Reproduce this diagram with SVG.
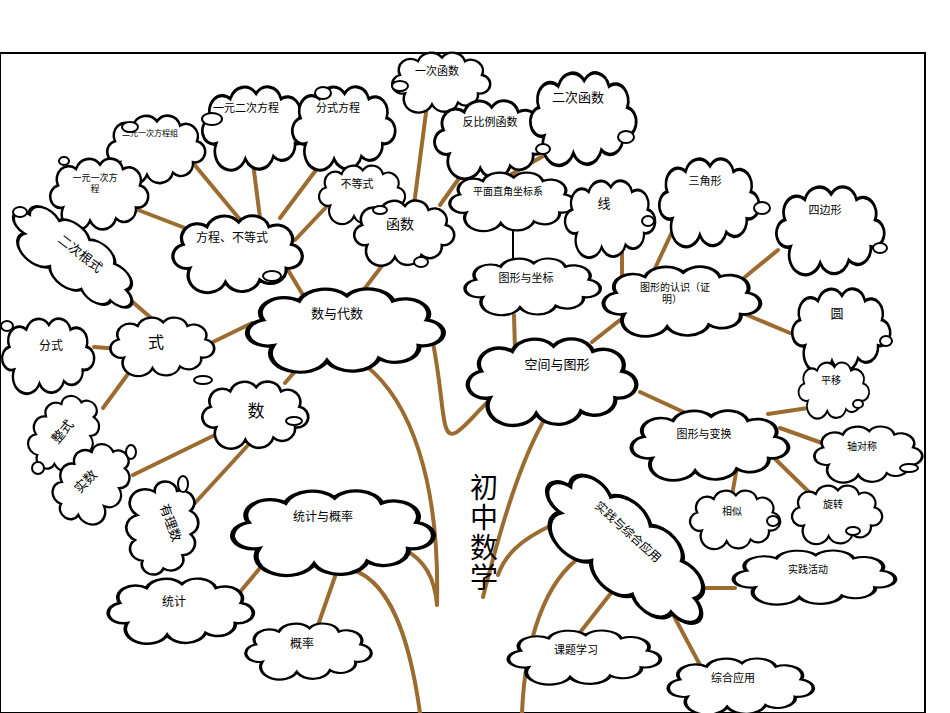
<svg xmlns="http://www.w3.org/2000/svg" width="950" height="713" viewBox="0 0 950 713">
<style>
.c{fill:#fff;stroke:#000;stroke-width:2.5;vector-effect:non-scaling-stroke}
.t{font-family:"Liberation Sans","Noto Sans CJK SC",sans-serif;font-size:11px;text-anchor:middle;fill:#000}
.l{stroke:#9c6b30;stroke-width:4;fill:none;stroke-linecap:round}
.sp{fill:#fff;stroke:#000;stroke-width:2}
</style>
<defs>
<path id="cl" d="M15,45 A10,10 0 0 1 10,25 A12,12 0 0 1 28,10 A14,14 0 0 1 52,6 A13,13 0 0 1 75,10 A12,12 0 0 1 92,25 A10,10 0 0 1 88,45 A12,12 0 0 1 68,55 A14,14 0 0 1 42,57 A12,12 0 0 1 15,45 Z"/>
</defs>
<rect x="0" y="53" width="925" height="660" fill="#fff" stroke="#000" stroke-width="2"/>
<g id="connectors">
<path class="l" d="M427,105L414,205M465,170L440,205M545,155L510,175M514,315L515,350M622,243L622,298M672,232L651,277M778,250L745,277M740,312L790,333M620,320L592,342M640,392L690,415M808,408L768,414M780,428L822,443M738,462L732,495M768,452L810,493M388,258L362,292M285,265L318,320M253,163L260,218M322,162L280,218M193,163L242,222M133,208L185,228M330,203L295,240M128,298L165,330M94,347L133,350M213,342L252,323M136,363L103,408M315,348L285,383M217,434L133,475M250,443L195,503M265,562L240,592M338,568L317,628M705,588L735,588M615,588L578,635M668,605L700,665"/>
<path d="M513,225L513,262" stroke="#000" stroke-width="2"/>
<path class="l" d="M432,338C445,400 440,440 455,433C465,428 478,410 490,400M365,365C410,400 440,480 437,605M547,415C520,460 500,530 483,597M552,525C520,540 505,555 498,575M345,568C390,575 410,640 420,713M405,550C425,560 435,580 437,605M583,555C545,580 525,640 522,713"/>
</g>
<g id="n1"><use href="#cl" class="c" transform="translate(390,52) scale(1,0.92)"/><text class="t" x="437" y="75">一次函数</text></g>
<g id="n2"><use href="#cl" class="c" transform="translate(200,86) scale(1.08,1.28)"/><text class="t" x="246" y="112">一元二次方程</text></g>
<g id="n3"><use href="#cl" class="c" transform="translate(290,86) scale(1.05,1.28)"/><text class="t" x="338" y="112">分式方程</text></g>
<g id="n4"><use href="#cl" class="c" transform="translate(105,115) scale(1,1.05)"/><text class="t" x="150" y="136" style="font-size:8px">二元一次方程组</text></g>
<g id="n5"><use href="#cl" class="c" transform="translate(48,158) scale(1,1.1)"/><text class="t" x="95" y="181" style="font-size:9px">一元一次方</text><text class="t" x="95" y="192" style="font-size:9px">程</text></g>
<g id="n6"><use href="#cl" class="c" transform="translate(317,165) scale(0.88,0.9)"/><text class="t" x="357" y="188">不等式</text></g>
<g id="n7"><use href="#cl" class="c" transform="translate(432,100) scale(1.15,1.2)"/><text class="t" x="490" y="126">反比例函数</text></g>
<g id="n8"><use href="#cl" class="c" transform="translate(528,72) scale(1.08,1.42)"/><text class="t" x="578" y="102" style="font-size:13px">二次函数</text></g>
<g id="n9"><use href="#cl" class="c" transform="translate(352,200) scale(1.02,1)"/><text class="t" x="400" y="229" style="font-size:14px">函数</text></g>
<g id="n10"><use href="#cl" class="c" transform="translate(170,215) scale(1.32,1.18)"/><text class="t" x="232" y="242" style="font-size:12px">方程、不等式</text></g>
<g id="n11"><use href="#cl" class="c" transform="translate(74,255) rotate(38) translate(-75,-27) scale(1.5,0.9)"/><text class="t" x="80" y="258" transform="rotate(38 80 254)" style="font-size:13px">二次根式</text></g>
<g id="n12"><use href="#cl" class="c" transform="translate(447,172) scale(1.28,0.9)"/><text class="t" x="508" y="195" style="font-size:10px">平面直角坐标系</text></g>
<g id="n13"><use href="#cl" class="c" transform="translate(563,180) scale(0.92,1.18)"/><text class="t" x="604" y="208" style="font-size:13px">线</text></g>
<g id="n14"><use href="#cl" class="c" transform="translate(657,158) scale(1.02,1.35)"/><text class="t" x="705" y="185">三角形</text></g>
<g id="n15"><use href="#cl" class="c" transform="translate(774,186) scale(1.1,1.35)"/><text class="t" x="825" y="214">四边形</text></g>
<g id="n16"><use href="#cl" class="c" transform="translate(462,258) scale(1.38,0.87)"/><text class="t" x="526" y="282">图形与坐标</text></g>
<g id="n17"><use href="#cl" class="c" transform="translate(600,266) scale(1.6,1.07)"/><text class="t" x="675" y="291" style="font-size:10px">图形的认识（证</text><text class="t" x="672" y="303" style="font-size:10px">明）</text></g>
<g id="n18"><use href="#cl" class="c" transform="translate(243,288) scale(2,1.28)"/><text class="t" x="337" y="318" style="font-size:13px">数与代数</text></g>
<g id="n19"><use href="#cl" class="c" transform="translate(108,317) scale(1.06,0.9)"/><text class="t" x="156" y="348" style="font-size:16px">式</text></g>
<g id="n20"><use href="#cl" class="c" transform="translate(0,318) scale(0.94,1.15)"/><text class="t" x="51" y="350" style="font-size:12px">分式</text></g>
<g id="n21"><use href="#cl" class="c" transform="translate(790,288) scale(1,1.28)"/><text class="t" x="837" y="318" style="font-size:13px">圆</text></g>
<g id="n22"><use href="#cl" class="c" transform="translate(464,338) scale(1.72,1.33)"/><text class="t" x="557" y="369" style="font-size:13px">空间与图形</text></g>
<g id="n23"><use href="#cl" class="c" transform="translate(797,362) scale(0.72,0.86)"/><text class="t" x="831" y="384" style="font-size:10px">平移</text></g>
<g id="n24"><use href="#cl" class="c" transform="translate(200,381) scale(1.08,1.03)"/><text class="t" x="256" y="417" style="font-size:17px">数</text></g>
<g id="n25"><use href="#cl" class="c" transform="translate(62,432) rotate(-50) translate(-42,-28) scale(0.84,0.95)"/><text class="t" x="63" y="436" transform="rotate(-50 63 432)" style="font-size:13px">整式</text></g>
<g id="n26"><use href="#cl" class="c" transform="translate(90,482) rotate(-45) translate(-45,-30) scale(0.9,1)"/><text class="t" x="86" y="486" transform="rotate(-45 86 482)" style="font-size:13px">实数</text></g>
<g id="n27"><use href="#cl" class="c" transform="translate(166,528) rotate(100) translate(-48,-32) scale(0.96,1.1)"/><text class="t" x="170" y="527" transform="rotate(70 170 523)" style="font-size:13px">有理数</text></g>
<g id="n28"><use href="#cl" class="c" transform="translate(628,410) scale(1.6,1.07)"/><text class="t" x="704" y="438">图形与变换</text></g>
<g id="n29"><use href="#cl" class="c" transform="translate(812,426) scale(1.1,0.86)"/><text class="t" x="862" y="450" style="font-size:10px">轴对称</text></g>
<g id="n30"><use href="#cl" class="c" transform="translate(228,490) scale(2.05,1.3)"/><text class="t" x="323" y="521" style="font-size:12px">统计与概率</text></g>
<g id="n31"><use href="#cl" class="c" transform="translate(688,490) scale(0.92,0.9)"/><text class="t" x="732" y="515" style="font-size:10px">相似</text></g>
<g id="n32"><use href="#cl" class="c" transform="translate(790,485) scale(0.92,0.9)"/><text class="t" x="833" y="508" style="font-size:10px">旋转</text></g>
<g id="n33"><use href="#cl" class="c" transform="translate(627,545) rotate(42) translate(-102,-38) scale(2.05,1.3)"/><text class="t" x="628" y="536" transform="rotate(42 628 532)" style="font-size:12px">实践与综合应用</text></g>
<g id="n34"><text class="t" style="font-size:28px" x="484" y="498">初</text><text class="t" style="font-size:28px" x="484" y="528">中</text><text class="t" style="font-size:28px" x="484" y="558">数</text><text class="t" style="font-size:28px" x="484" y="588">学</text></g>
<g id="n35"><use href="#cl" class="c" transform="translate(730,550) scale(1.65,0.83)"/><text class="t" x="808" y="573" style="font-size:10px">实践活动</text></g>
<g id="n36"><use href="#cl" class="c" transform="translate(105,578) scale(1.48,1)"/><text class="t" x="174" y="606" style="font-size:12px">统计</text></g>
<g id="n37"><use href="#cl" class="c" transform="translate(243,623) scale(1.28,0.86)"/><text class="t" x="302" y="648" style="font-size:12px">概率</text></g>
<g id="n38"><use href="#cl" class="c" transform="translate(505,630) scale(1.55,0.83)"/><text class="t" x="576" y="654">课题学习</text></g>
<g id="n39"><use href="#cl" class="c" transform="translate(665,658) scale(1.48,0.86)"/><text class="t" x="733" y="682">综合应用</text></g>
<g id="deco">
<ellipse class="sp" cx="400" cy="86" rx="8" ry="5"/><ellipse class="sp" cx="323" cy="93" rx="8" ry="6"/><ellipse class="sp" cx="130" cy="127" rx="8" ry="5"/><ellipse class="sp" cx="212" cy="119" rx="10" ry="6"/><ellipse class="sp" cx="64" cy="161" rx="5" ry="4"/><ellipse class="sp" cx="20" cy="212" rx="7" ry="5"/><ellipse class="sp" cx="380" cy="210" rx="7" ry="4"/><ellipse class="sp" cx="272" cy="276" rx="9" ry="5"/><ellipse class="sp" cx="421" cy="262" rx="7" ry="5"/><ellipse class="sp" cx="626" cy="137" rx="8" ry="6"/><ellipse class="sp" cx="543" cy="149" rx="7" ry="5"/><ellipse class="sp" cx="648" cy="221" rx="6" ry="5"/><ellipse class="sp" cx="762" cy="208" rx="8" ry="6"/><ellipse class="sp" cx="880" cy="248" rx="7" ry="5"/><ellipse class="sp" cx="886" cy="341" rx="6" ry="5"/><ellipse class="sp" cx="7" cy="326" rx="6" ry="5"/><ellipse class="sp" cx="203" cy="380" rx="9" ry="4"/><ellipse class="sp" cx="294" cy="421" rx="8" ry="4"/><ellipse class="sp" cx="38" cy="468" rx="6" ry="6"/><ellipse class="sp" cx="131" cy="452" rx="5" ry="7"/><ellipse class="sp" cx="183" cy="484" rx="5" ry="8"/><ellipse class="sp" cx="858" cy="404" rx="5" ry="4"/><ellipse class="sp" cx="909" cy="468" rx="9" ry="4"/><ellipse class="sp" cx="773" cy="521" rx="6" ry="5"/><ellipse class="sp" cx="853" cy="531" rx="7" ry="4"/>
</g>
</svg>
